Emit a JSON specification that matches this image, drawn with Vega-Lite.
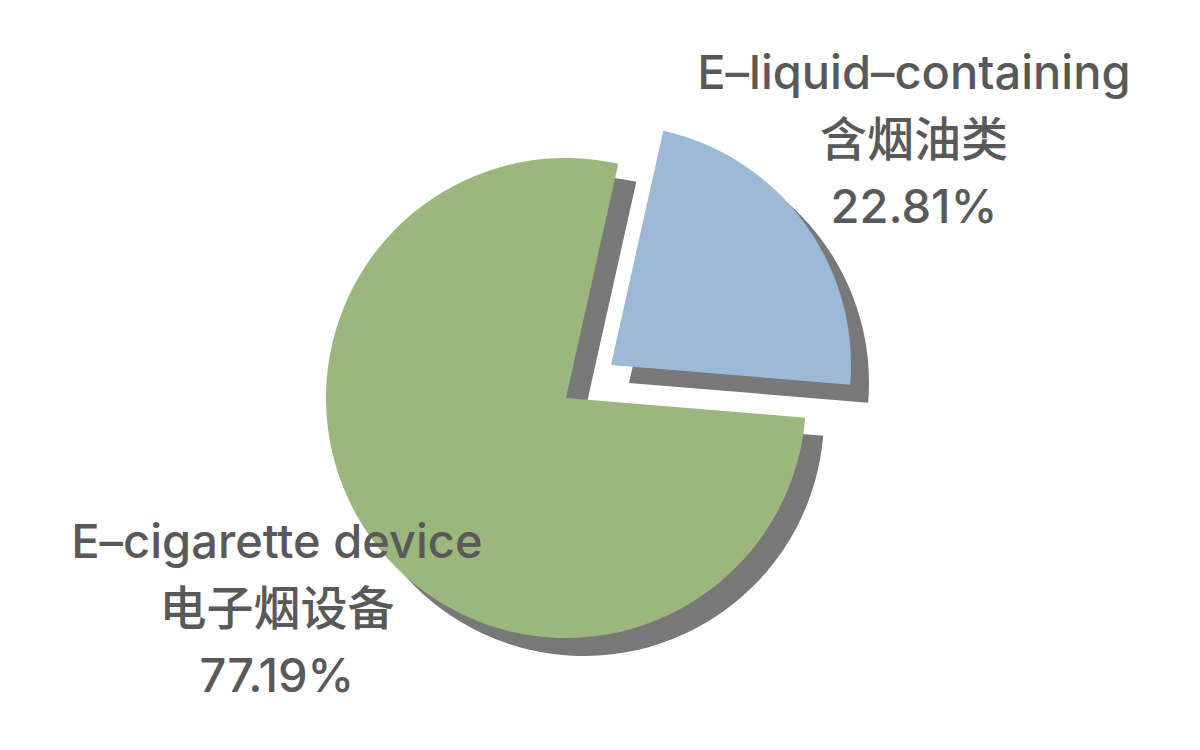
{
  "$schema": "https://vega.github.io/schema/vega-lite/v6.json",
  "autosize": {"type": "none"},
  "width": 1132,
  "height": 704,
  "padding": {"left": 0, "top": 46, "right": 0, "bottom": 0},
  "background": "#ffffff",
  "view": {"stroke": null},
  "data": {
    "values": [
      {"category": "E–cigarette device", "label": ["E–cigarette device", "电子烟设备", "77.19%"], "share": 77.19},
      {"category": "E–liquid–containing", "label": ["E–liquid–containing", "含烟油类", "22.81%"], "share": 22.81}
    ]
  },
  "encoding": {
    "theta": {"field": "share", "type": "quantitative", "stack": true, "scale": {"range": [1.65283, 7.93602]}},
    "order": {"field": "share", "type": "quantitative", "sort": "descending"}
  },
  "layer": [
    {
      "mark": {"type": "arc", "radius": 240, "xOffset": 18, "yOffset": 18, "fill": "#787878"},
      "encoding": {
        "opacity": {"condition": {"test": "datum.category === 'E–liquid–containing'", "value": 0}, "value": 1}
      }
    },
    {
      "mark": {"type": "arc", "radius": 240, "xOffset": 63, "yOffset": -15, "fill": "#787878"},
      "encoding": {
        "opacity": {"condition": {"test": "datum.category === 'E–liquid–containing'", "value": 1}, "value": 0}
      }
    },
    {
      "mark": {"type": "arc", "radius": 240},
      "encoding": {
        "color": {"field": "category", "type": "nominal", "scale": {"domain": ["E–cigarette device", "E–liquid–containing"], "range": ["#9BB77E", "#9DB9D8"]}, "legend": null},
        "opacity": {"condition": {"test": "datum.category === 'E–liquid–containing'", "value": 0}, "value": 1}
      }
    },
    {
      "mark": {"type": "arc", "radius": 240, "xOffset": 45, "yOffset": -33},
      "encoding": {
        "color": {"field": "category", "type": "nominal", "scale": {"domain": ["E–cigarette device", "E–liquid–containing"], "range": ["#9BB77E", "#9DB9D8"]}, "legend": null},
        "opacity": {"condition": {"test": "datum.category === 'E–liquid–containing'", "value": 1}, "value": 0}
      }
    },
    {
      "mark": {"type": "text", "radius": 432, "dy": -67, "font": "Inter, Noto Sans CJK SC", "fontSize": 47, "fontWeight": 500, "lineHeight": 67, "fill": "#595959", "align": "center", "baseline": "middle"},
      "encoding": {
        "text": {"condition": {"test": "datum.category === 'E–liquid–containing'", "field": "label", "type": "nominal"}, "value": ""}
      }
    },
    {
      "mark": {"type": "text", "radius": 359, "dy": -67, "font": "Inter, Noto Sans CJK SC", "fontSize": 47, "fontWeight": 500, "lineHeight": 67, "fill": "#595959", "align": "center", "baseline": "middle"},
      "encoding": {
        "text": {"condition": {"test": "datum.category === 'E–cigarette device'", "field": "label", "type": "nominal"}, "value": ""}
      }
    }
  ]
}
